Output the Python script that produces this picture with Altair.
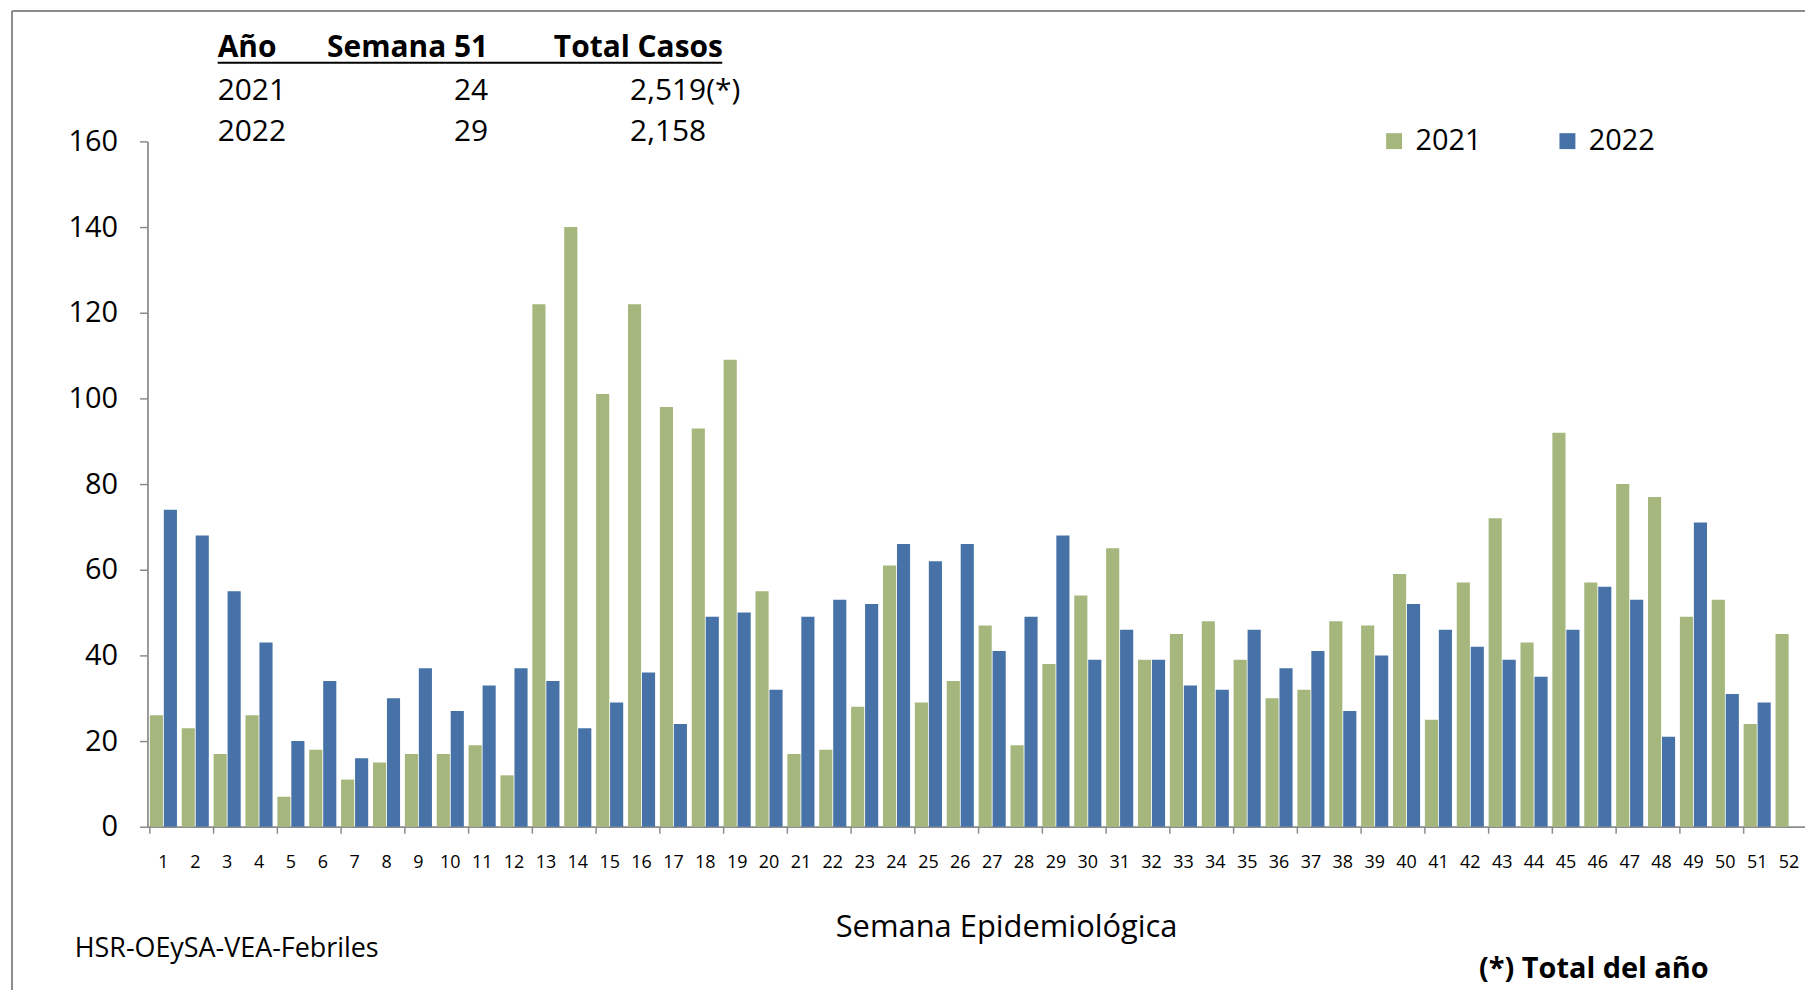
import altair as alt
import pandas as pd

# ---------------- data ----------------
weeks = list(range(1, 53))
years = ["2021", "2022"]
cases_2021 = [26, 23, 17, 26, 7, 18, 11, 15, 17, 17, 19, 12, 122, 140, 101, 122, 98, 93, 109, 55,
              17, 18, 28, 61, 29, 34, 47, 19, 38, 54, 65, 39, 45, 48, 39, 30, 32, 48, 47, 59,
              25, 57, 72, 43, 92, 57, 80, 77, 49, 53, 24, 45]
cases_2022 = [74, 68, 55, 43, 20, 34, 16, 30, 37, 27, 33, 37, 34, 23, 29, 36, 24, 49, 50, 32,
              49, 53, 52, 66, 62, 66, 41, 49, 68, 39, 46, 39, 33, 32, 46, 37, 41, 27, 40, 52,
              46, 42, 39, 35, 46, 56, 53, 21, 71, 31, 29]
y_ticks = [0, 20, 40, 60, 80, 100, 120, 140, 160]
tick_weeks = list(range(1, 53, 2))

table_header = ["Año", "Semana 51", "Total Casos"]
table_rows = [["2021", "24", "2,519(*)"],
              ["2022", "29", "2,158"]]
x_title = "Semana  Epidemiológica"
source_note = "HSR-OEySA-VEA-Febriles"
total_note = "(*) Total del año"

colors = ["#A5B77D", "#4672A7"]
AX = "#8C8C8C"
FONT = "Open Sans"

rows = [{"week": w, "year": "2021", "cases": c} for w, c in zip(weeks, cases_2021)]
rows += [{"week": w, "year": "2022", "cases": c} for w, c in zip(weeks, cases_2022)]
df = pd.DataFrame(rows)

W, H = 1664, 688

x_scale = alt.Scale(domain=weeks, paddingInner=0.15, paddingOuter=0.075)
x_axis = alt.Axis(title=x_title, labelAngle=0, ticks=False, labelPadding=27,
                  labelFontSize=18, labelFont=FONT, labelColor="black",
                  domainColor=AX, domainWidth=1.75,
                  titleFont=FONT, titleFontSize=31, titleFontWeight="normal",
                  titleColor="black", titleX=862, titleY=101,
                  titleAlign="center", titleBaseline="middle")

bars = alt.Chart(df).mark_bar().encode(
    x=alt.X("week:O", scale=x_scale, axis=x_axis),
    xOffset=alt.XOffset("year:N", scale=alt.Scale(domain=years, paddingInner=0.06, paddingOuter=0)),
    y=alt.Y("cases:Q", scale=alt.Scale(domain=[0, 160], nice=False),
            axis=alt.Axis(values=y_ticks, title=None, grid=False, tickSize=8, tickColor=AX,
                          tickWidth=1.5, domainColor=AX, domainWidth=1.75, labelPadding=22,
                          labelFontSize=29, labelFont=FONT, labelColor="black")),
    color=alt.Color("year:N", scale=alt.Scale(domain=years, range=colors),
                    legend=alt.Legend(title=None, orient="none", direction="horizontal",
                                      legendX=1237, legendY=-15, symbolType="square",
                                      symbolSize=256, symbolStrokeWidth=0, labelFontSize=29,
                                      labelFont=FONT, labelColor="black", labelOffset=7,
                                      columnPadding=71, padding=0)),
)

ticks = alt.Chart(pd.DataFrame({"week": tick_weeks})).mark_rule(color=AX, strokeWidth=1.5).encode(
    x=alt.X("week:O", scale=x_scale, bandPosition=0, axis=x_axis),
    y=alt.value(H), y2=alt.value(H + 7),
)

one = pd.DataFrame({"k": [0]})


def txt(s, x, y, size, align="left", weight="normal"):
    return alt.Chart(one).mark_text(text=s, font=FONT, fontSize=size, fontWeight=weight,
                                    align=align, baseline="middle", color="black").encode(
        x=alt.value(x), y=alt.value(y))


layers = [bars, ticks]

# table
col_x = [70.5, 342, 408]
col_align = ["left", "right", "left"]
for s, xx, al in zip(table_header, col_x, col_align):
    layers.append(txt(s, xx, -94, 30, al, "bold"))
row_x = [70.5, 342, 484.5]
for r, yy in zip(table_rows, [-51, -9]):
    for s, xx, al in zip(r, row_x, col_align):
        layers.append(txt(s, xx, yy, 30, al))

underline = alt.Chart(one).mark_rule(color="black", strokeWidth=2).encode(
    x=alt.value(70.5), x2=alt.value(577), y=alt.value(-79))
layers.append(underline)

layers.append(txt(source_note, -73, 811, 27))
layers.append(txt(total_note, 1452, 831, 29, "center", "bold"))

# chart-area border (partial frame)
border_top = alt.Chart(one).mark_rule(color="#8C8C8C", strokeWidth=2).encode(
    x=alt.value(-136), x2=alt.value(W), y=alt.value(-131))
border_left = alt.Chart(one).mark_rule(color="#8C8C8C", strokeWidth=2).encode(
    x=alt.value(-136), y=alt.value(-131), y2=alt.value(852))
layers += [border_top, border_left]

chart = alt.layer(*layers).properties(
    width=W, height=H,
    autosize=alt.AutoSizeParams(type="none"),
    padding={"left": 140, "top": 132, "right": 0, "bottom": 164},
).configure_view(stroke=None)

chart.save("out.html", embed_options={"renderer": "svg", "actions": False})
